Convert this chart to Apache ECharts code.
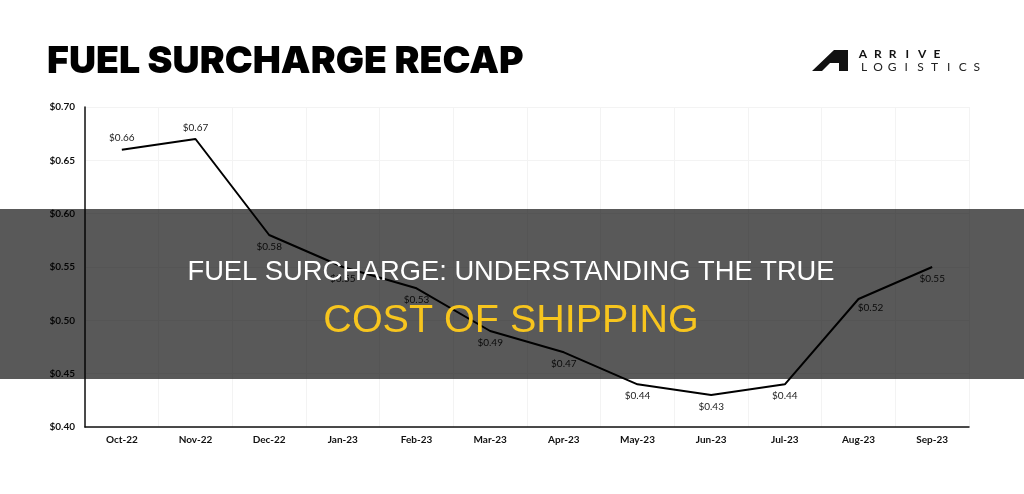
<!DOCTYPE html>
<html>
<head>
<meta charset="utf-8">
<script src="https://cdn.jsdelivr.net/npm/echarts@6/dist/echarts.min.js"></script>
<style>
  html, body { margin: 0; padding: 0; background: #fff; }
  #chart { width: 1024px; height: 494px; }
</style>
</head>
<body>
<div id="chart"></div>
<script>
// data
const months = ['Oct-22', 'Nov-22', 'Dec-22', 'Jan-23', 'Feb-23', 'Mar-23', 'Apr-23', 'May-23', 'Jun-23', 'Jul-23', 'Aug-23', 'Sep-23']
const surcharge = [0.66, 0.67, 0.58, 0.55, 0.53, 0.49, 0.47, 0.44, 0.43, 0.44, 0.52, 0.55]
const labelAbove = ['Oct-22', 'Nov-22']

const chart = echarts.init(document.getElementById('chart'))

const points = surcharge.map((v, i) => ({
  value: v,
  label: {
    position: labelAbove.includes(months[i]) ? 'top' : 'bottom',
    offset: months[i] === 'Aug-23' ? [12, -3] : [0, 0],
  },
}))

// spaced-out logo lettering, one glyph each
const logoLetters = []
'ARRIVE'.split('').forEach((ch, i) => {
  logoLetters.push({
    type: 'text', x: 863 + i * 14.8, y: 54, z: 10,
    style: { text: ch, fontFamily: 'Lato', fontWeight: 'bold', fontSize: 12, fill: '#111', align: 'center', verticalAlign: 'middle' },
  })
})
'LOGISTICS'.split('').forEach((ch, i) => {
  logoLetters.push({
    type: 'text', x: 864 + i * 14.1, y: 67, z: 10,
    style: { text: ch, fontFamily: 'Lato', fontSize: 12, fill: '#222', align: 'center', verticalAlign: 'middle' },
  })
})

const option = {
  backgroundColor: '#ffffff',
  animation: false,
  grid: { left: 85, right: 55, top: 107, bottom: 67 },
  xAxis: {
    type: 'category',
    data: months,
    boundaryGap: true,
    axisLine: { lineStyle: { color: '#111', width: 1.5 } },
    axisTick: { show: false },
    axisLabel: { color: '#111', fontWeight: 'bold', fontSize: 10, margin: 8, fontFamily: 'Lato' },
    splitLine: { show: true, lineStyle: { color: '#f3f3f3', width: 1 } },
  },
  yAxis: {
    type: 'value',
    min: 0.4,
    max: 0.7,
    interval: 0.05,
    axisLine: { show: true, lineStyle: { color: '#111', width: 1.5 } },
    axisTick: { show: false },
    axisLabel: {
      color: '#111', fontWeight: 'bold', fontSize: 10, margin: 10, fontFamily: 'Lato',
      formatter: (v) => '$' + v.toFixed(2),
    },
    splitLine: { lineStyle: { color: '#f3f3f3', width: 1 } },
  },
  series: [{
    type: 'line',
    data: points,
    symbol: 'circle',
    symbolSize: 1,
    showSymbol: true,
    itemStyle: { color: 'rgba(0,0,0,0)' },
    lineStyle: { color: '#000', width: 2 },
    label: {
      show: true,
      distance: 6,
      color: '#222',
      fontSize: 10,
      fontFamily: 'Lato',
      formatter: (p) => '$' + p.value.toFixed(2),
    },
  }],
  graphic: [
    {
      type: 'text', left: 47, top: 43, z: 10,
      style: { text: 'FUEL SURCHARGE RECAP', fontFamily: 'Inter', fontWeight: 900, fontSize: 37.5, fill: '#000' },
    },
    {
      type: 'polygon', z: 10,
      shape: { points: [[812, 71], [834, 50], [848, 50], [848, 71], [839, 71], [839, 63], [830, 63], [822, 71]] },
      style: { fill: '#111' },
    },
    ...logoLetters,
    {
      type: 'rect', z: 100,
      shape: { x: 0, y: 209, width: 1024, height: 170 },
      style: { fill: 'rgba(0,0,0,0.65)' },
    },
    {
      type: 'text', z: 101, x: 511, y: 272,
      style: {
        text: 'FUEL SURCHARGE: UNDERSTANDING THE TRUE', fontFamily: 'Liberation Sans', fontSize: 27.3,
        fill: '#fff', align: 'center', verticalAlign: 'middle',
      },
    },
    {
      type: 'text', z: 101, x: 511, y: 321,
      style: {
        text: 'COST OF SHIPPING', fontFamily: 'Liberation Sans', fontSize: 39.5,
        fill: '#f7c51e', align: 'center', verticalAlign: 'middle',
      },
    },
  ],
}

chart.setOption(option)
</script>
</body>
</html>
